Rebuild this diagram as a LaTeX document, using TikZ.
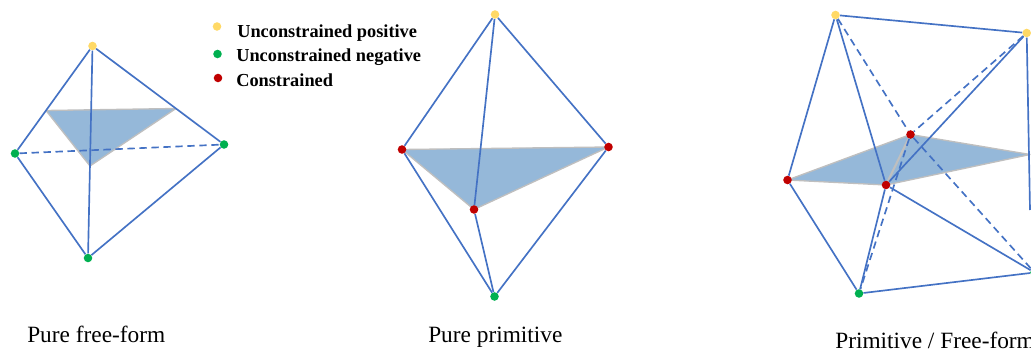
\documentclass[tikz,border=0pt]{standalone}
\usepackage{fontspec}
\setmainfont{Liberation Serif}
\definecolor{edgeblue}{RGB}{68,114,196}
\definecolor{planefill}{RGB}{149,184,217}
\definecolor{planeline}{RGB}{191,191,191}
\definecolor{posyellow}{RGB}{255,217,102}
\definecolor{neggreen}{RGB}{0,176,80}
\definecolor{consred}{RGB}{192,0,0}
\tikzset{
  vertex/.style={circle, inner sep=0pt, minimum size=6.4pt},
  positive/.style={vertex, fill=posyellow},
  negative/.style={vertex, fill=neggreen},
  constrained/.style={vertex, fill=consred},
  edge/.style={draw=edgeblue, line width=1.25pt},
  hidden/.style={edge, dash pattern=on 5.5pt off 3.5pt},
  plane/.style={fill=planefill, draw=planeline, line width=1pt, line join=round},
  legend/.style={anchor=base west, font=\fontsize{13.75}{16}\selectfont\bfseries, inner sep=0pt},
  caption/.style={anchor=base west, font=\fontsize{17.5}{20}\selectfont, inner sep=0pt},
}
\begin{document}
\begin{tikzpicture}[x=0.75pt,y=-0.75pt]
    \useasboundingbox (0,0) rectangle (1031,349);
    \clip (0,0) rectangle (1031,349);

    %%%%%%%%%%%%%%%%%%
    %%%%% Legend %%%%%
    %%%%%%%%%%%%%%%%%%
    \node[positive] (LP) at (217,26.5) {};
    \node[negative] (LN) at (217.5,54) {};
    \node[constrained] (LC) at (218,78) {};
    \node[legend] (TP) at (237,37.4) {Unconstrained positive};
    \node[legend] (TN) at (236,61.7) {Unconstrained negative};
    \node[legend] (TC) at (236,86.2) {Constrained};

    %%%%%%%%%%%%%%%%%%
    %%%%% Step 1 %%%%%
    %%%%%%%%%%%%%%%%%%
    \node[caption] (C1) at (27,342) {Pure free-form};

    % The plane
    \coordinate (P1) at (46,110.5);
    \coordinate (P2) at (176,108.5);
    \coordinate (P3) at (90,166);
    \draw[plane] (P1) -- (P2) -- (P3) -- cycle;

    % The vertices
    \node[positive] (T1) at (92.5,46) {};
    \node[negative] (L1) at (15,153.5) {};
    \node[negative] (R1) at (224,144.5) {};
    \node[negative] (B1) at (88,258) {};

    % The edges
    \draw[edge] (T1) -- (L1);
    \draw[edge] (T1) -- (R1);
    \draw[edge] (T1) -- (B1);
    \draw[edge] (L1) -- (B1);
    \draw[edge] (R1) -- (B1);
    \draw[hidden] (L1) -- (R1);

    %%%%%%%%%%%%%%%%%%
    %%%%% Step 2 %%%%%
    %%%%%%%%%%%%%%%%%%
    \node[caption] (C2) at (428,342) {Pure primitive};

    % The plane
    \coordinate (P4) at (402,149.5);
    \coordinate (P5) at (608.5,147);
    \coordinate (P6) at (474,209.5);
    \draw[plane] (P4) -- (P5) -- (P6) -- cycle;

    % The vertices
    \node[positive] (T2) at (495,14.5) {};
    \node[constrained] (L2) at (P4) {};
    \node[constrained] (R2) at (P5) {};
    \node[constrained] (F2) at (P6) {};
    \node[negative] (B2) at (494.5,296.5) {};

    % The edges
    \draw[edge] (T2) -- (L2);
    \draw[edge] (T2) -- (R2);
    \draw[edge] (T2) -- (F2);
    \draw[edge] (L2) -- (B2);
    \draw[edge] (R2) -- (B2);
    \draw[edge] (F2) -- (B2);

    %%%%%%%%%%%%%%%%%%
    %%%%% Step 3 %%%%%
    %%%%%%%%%%%%%%%%%%
    \node[caption] (C3) at (835,348.5) {Primitive / Free-form};

    % The plane
    \coordinate (P7) at (787.5,180);
    \coordinate (P8) at (910.5,134.5);
    \coordinate (P9) at (1030,154.5);
    \coordinate (P10) at (886,185);
    \draw[plane] (P7) -- (P8) -- (P9) -- (P10) -- cycle;
    \draw[planeline, line width=1.6pt] (P8) -- (P10);

    % The vertices
    \node[positive] (A3) at (835.5,15) {};
    \node[positive] (D3) at (1026.7,33) {};
    \node[constrained] (L3) at (P7) {};
    \node[constrained] (K3) at (P8) {};
    \node[constrained] (F3) at (P10) {};
    \node[negative] (G3) at (859,293.5) {};
    \node[negative] (H3) at (1034.5,272.5) {};
    \coordinate (E3) at (1030,210);

    % The edges
    \draw[edge] (A3) -- (D3);
    \draw[edge] (A3) -- (L3);
    \draw[edge] (A3) -- (F3);
    \draw[edge] (D3) -- (F3);
    \draw[edge] (D3) -- (E3);
    \draw[edge] (L3) -- (G3);
    \draw[edge] (F3) -- (G3);
    \draw[edge] (F3) -- (H3);
    \draw[edge] (G3) -- (H3);

    % The hidden edges meet behind the plane
    \draw[hidden] (A3) -- (K3);
    \draw[hidden] (K3) -- (H3);
    \draw[hidden] (D3) -- (K3);
    \draw[hidden] (K3) -- (G3);
\end{tikzpicture}
\end{document}
